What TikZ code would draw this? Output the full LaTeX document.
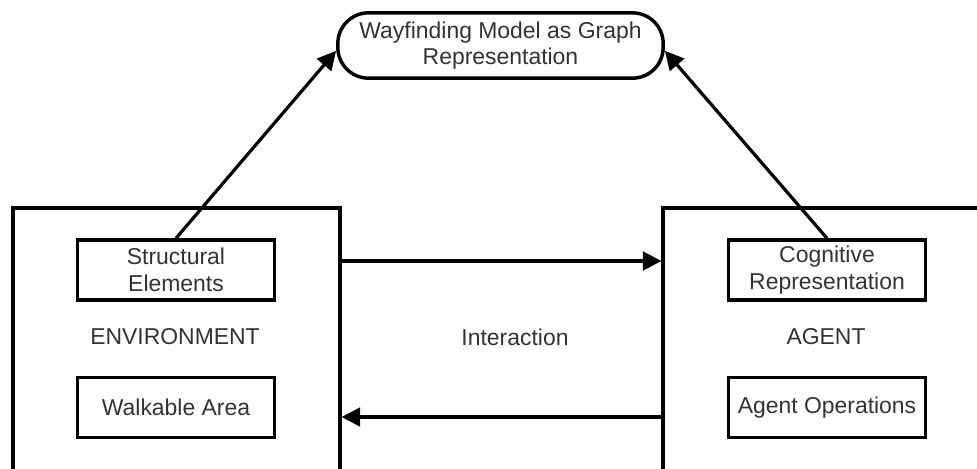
\documentclass[tikz,border=0pt]{standalone}
\usepackage{fontspec}
\setmainfont{Liberation Sans}
\usetikzlibrary{arrows.meta}
\definecolor{ink}{rgb}{0.2, 0.2, 0.2}

\begin{document}
\begin{tikzpicture}[x=0.75pt, y=-0.75pt,
		every node/.style = {font=\fontsize{17.2}{20}\selectfont, text=ink, align=center},
		outer/.style = {draw, line width=2.6pt, minimum width=245pt, minimum height=210pt},
		inner/.style = {draw, line width=2.6pt, minimum width=148pt, minimum height=45pt, inner sep=1pt},
		goal/.style = {draw, line width=2.6pt, rounded corners=23pt, minimum width=244pt, minimum height=49pt, inner sep=1pt},
		flow/.style = {line width=2.4pt, -{Triangle[length=14pt, width=14pt]}}]
			\useasboundingbox (0, 0) rectangle (977, 468);
			% goal
			\node[goal] (wf) at (500.5, 45.5) {Wayfinding Model as Graph\\Representation};
			% left hand
			\begin{scope}
				\node[outer] (env) at (176.5, 348) {};
				\node[inner] (struct) at (176, 270) {Structural\\Elements};
				\node (envname) at (175, 337) {ENVIRONMENT};
				\node[inner] (walk) at (176, 407.5) {Walkable Area};
			\end{scope}
			% right hand
			\begin{scope}
				\node[outer] (agent) at (826.5, 348) {};
				\node[inner] (cog) at (827, 270) {Cognitive\\Representation};
				\node (agentname) at (826, 337) {AGENT};
				\node[inner] (ops) at (827, 407.5) {Agent Operations};
			\end{scope}
			% interaction
			\node (inter) at (515, 337) {Interaction};
			\coordinate (fwd) at (500, 261);
			\coordinate (bwd) at (500, 417);
			\draw[flow] (env.east |- fwd) -- (agent.west |- fwd);
			\draw[flow] (agent.west |- bwd) -- (env.east |- bwd);
			% outline
			\draw[flow] (struct.north) -- ([yshift=-4pt]wf.west);
			\draw[flow] (cog.north) -- ([yshift=-4pt]wf.east);
		\end{tikzpicture}
\end{document}
